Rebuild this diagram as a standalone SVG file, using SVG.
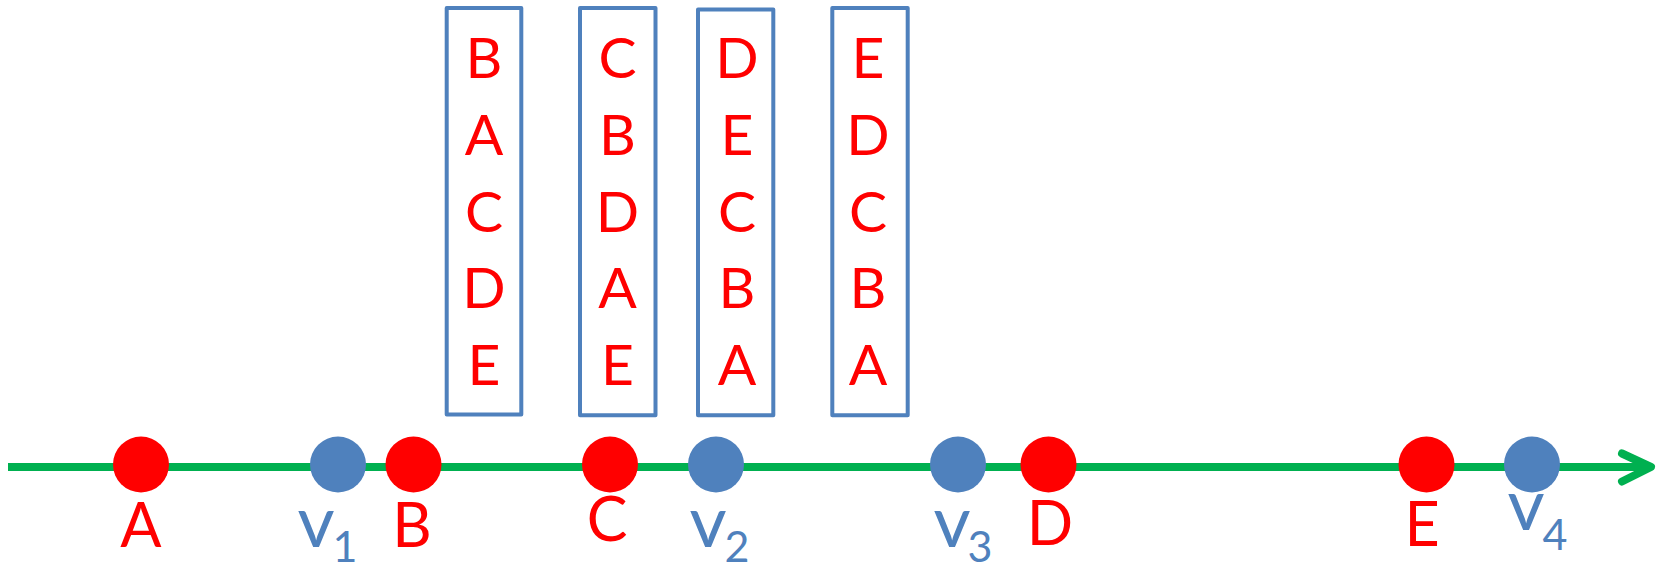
<svg xmlns="http://www.w3.org/2000/svg" width="1661" height="565" viewBox="0 0 1661 565">
<style>
.box{fill:none;stroke:#4F81BD;stroke-width:4;stroke-linejoin:round}
.lt{font-family:Lato,"Open Sans","Liberation Sans",sans-serif;fill:#FF0000;text-anchor:middle}
.bl{font-size:57px}
.lb{font-size:61px}
.vt{font-family:Lato,"Open Sans","Liberation Sans",sans-serif;fill:#4F81BD;text-anchor:middle;font-size:72px}
.sub{font-family:Lato,"Open Sans","Liberation Sans",sans-serif;fill:#4F81BD;text-anchor:middle;font-size:43px}
.red{fill:#FF0000}
.blue{fill:#4F81BD}
.axis{stroke:#00B050;stroke-width:8;fill:none;stroke-linecap:butt}
.head{stroke:#00B050;stroke-width:8;fill:none;stroke-linecap:round;stroke-linejoin:round}
</style>
<g id="connectors">
<line class="axis" x1="8" y1="467" x2="1650" y2="467"/>
<polyline class="head" points="1622,453.5 1651,467 1622,481.5"/>
</g>
<g id="box1">
<rect class="box" x="446.7" y="8" width="74.6" height="406.5"/>
<text class="lt bl" x="484" y="78">B</text>
<text class="lt bl" x="484" y="155">A</text>
<text class="lt bl" x="484" y="232">C</text>
<text class="lt bl" x="484" y="308">D</text>
<text class="lt bl" x="484" y="385">E</text>
</g>
<g id="box2">
<rect class="box" x="580" y="8" width="75.5" height="407.3"/>
<text class="lt bl" x="617.5" y="78">C</text>
<text class="lt bl" x="617.5" y="155">B</text>
<text class="lt bl" x="617.5" y="232">D</text>
<text class="lt bl" x="617.5" y="308">A</text>
<text class="lt bl" x="617.5" y="385">E</text>
</g>
<g id="box3">
<rect class="box" x="698" y="9.5" width="75.3" height="405.8"/>
<text class="lt bl" x="737" y="78">D</text>
<text class="lt bl" x="737" y="155">E</text>
<text class="lt bl" x="737" y="232">C</text>
<text class="lt bl" x="737" y="308">B</text>
<text class="lt bl" x="737" y="385">A</text>
</g>
<g id="box4">
<rect class="box" x="832.3" y="8" width="75.4" height="407.3"/>
<text class="lt bl" x="868" y="78">E</text>
<text class="lt bl" x="868" y="155">D</text>
<text class="lt bl" x="868" y="232">C</text>
<text class="lt bl" x="868" y="308">B</text>
<text class="lt bl" x="868" y="385">A</text>
</g>
<g id="nodeA"><circle class="red" cx="141" cy="464.5" r="28"/><text class="lt lb" x="141" y="546.5">A</text></g>
<g id="nodeV1"><circle class="blue" cx="338" cy="464.5" r="28"/><text class="vt" x="316" y="546.5">v</text><text class="sub" x="345" y="562">1</text></g>
<g id="nodeB"><circle class="red" cx="413.5" cy="464.5" r="28"/><text class="lt lb" x="412" y="546.5">B</text></g>
<g id="nodeC"><circle class="red" cx="610" cy="464.5" r="28"/><text class="lt lb" x="607" y="541">C</text></g>
<g id="nodeV2"><circle class="blue" cx="716" cy="464.5" r="28"/><text class="vt" x="708" y="546.5">v</text><text class="sub" x="737" y="562">2</text></g>
<g id="nodeV3"><circle class="blue" cx="958" cy="464.5" r="28"/><text class="vt" x="952" y="546.5">v</text><text class="sub" x="980" y="562">3</text></g>
<g id="nodeD"><circle class="red" cx="1048.5" cy="464.5" r="28"/><text class="lt lb" x="1050" y="545">D</text></g>
<g id="nodeE"><circle class="red" cx="1426.5" cy="464.5" r="28"/><text class="lt lb" x="1422" y="546">E</text></g>
<g id="nodeV4"><circle class="blue" cx="1532" cy="464.5" r="28"/><text class="vt" x="1526" y="530">v</text><text class="sub" x="1555" y="550">4</text></g>
</svg>
